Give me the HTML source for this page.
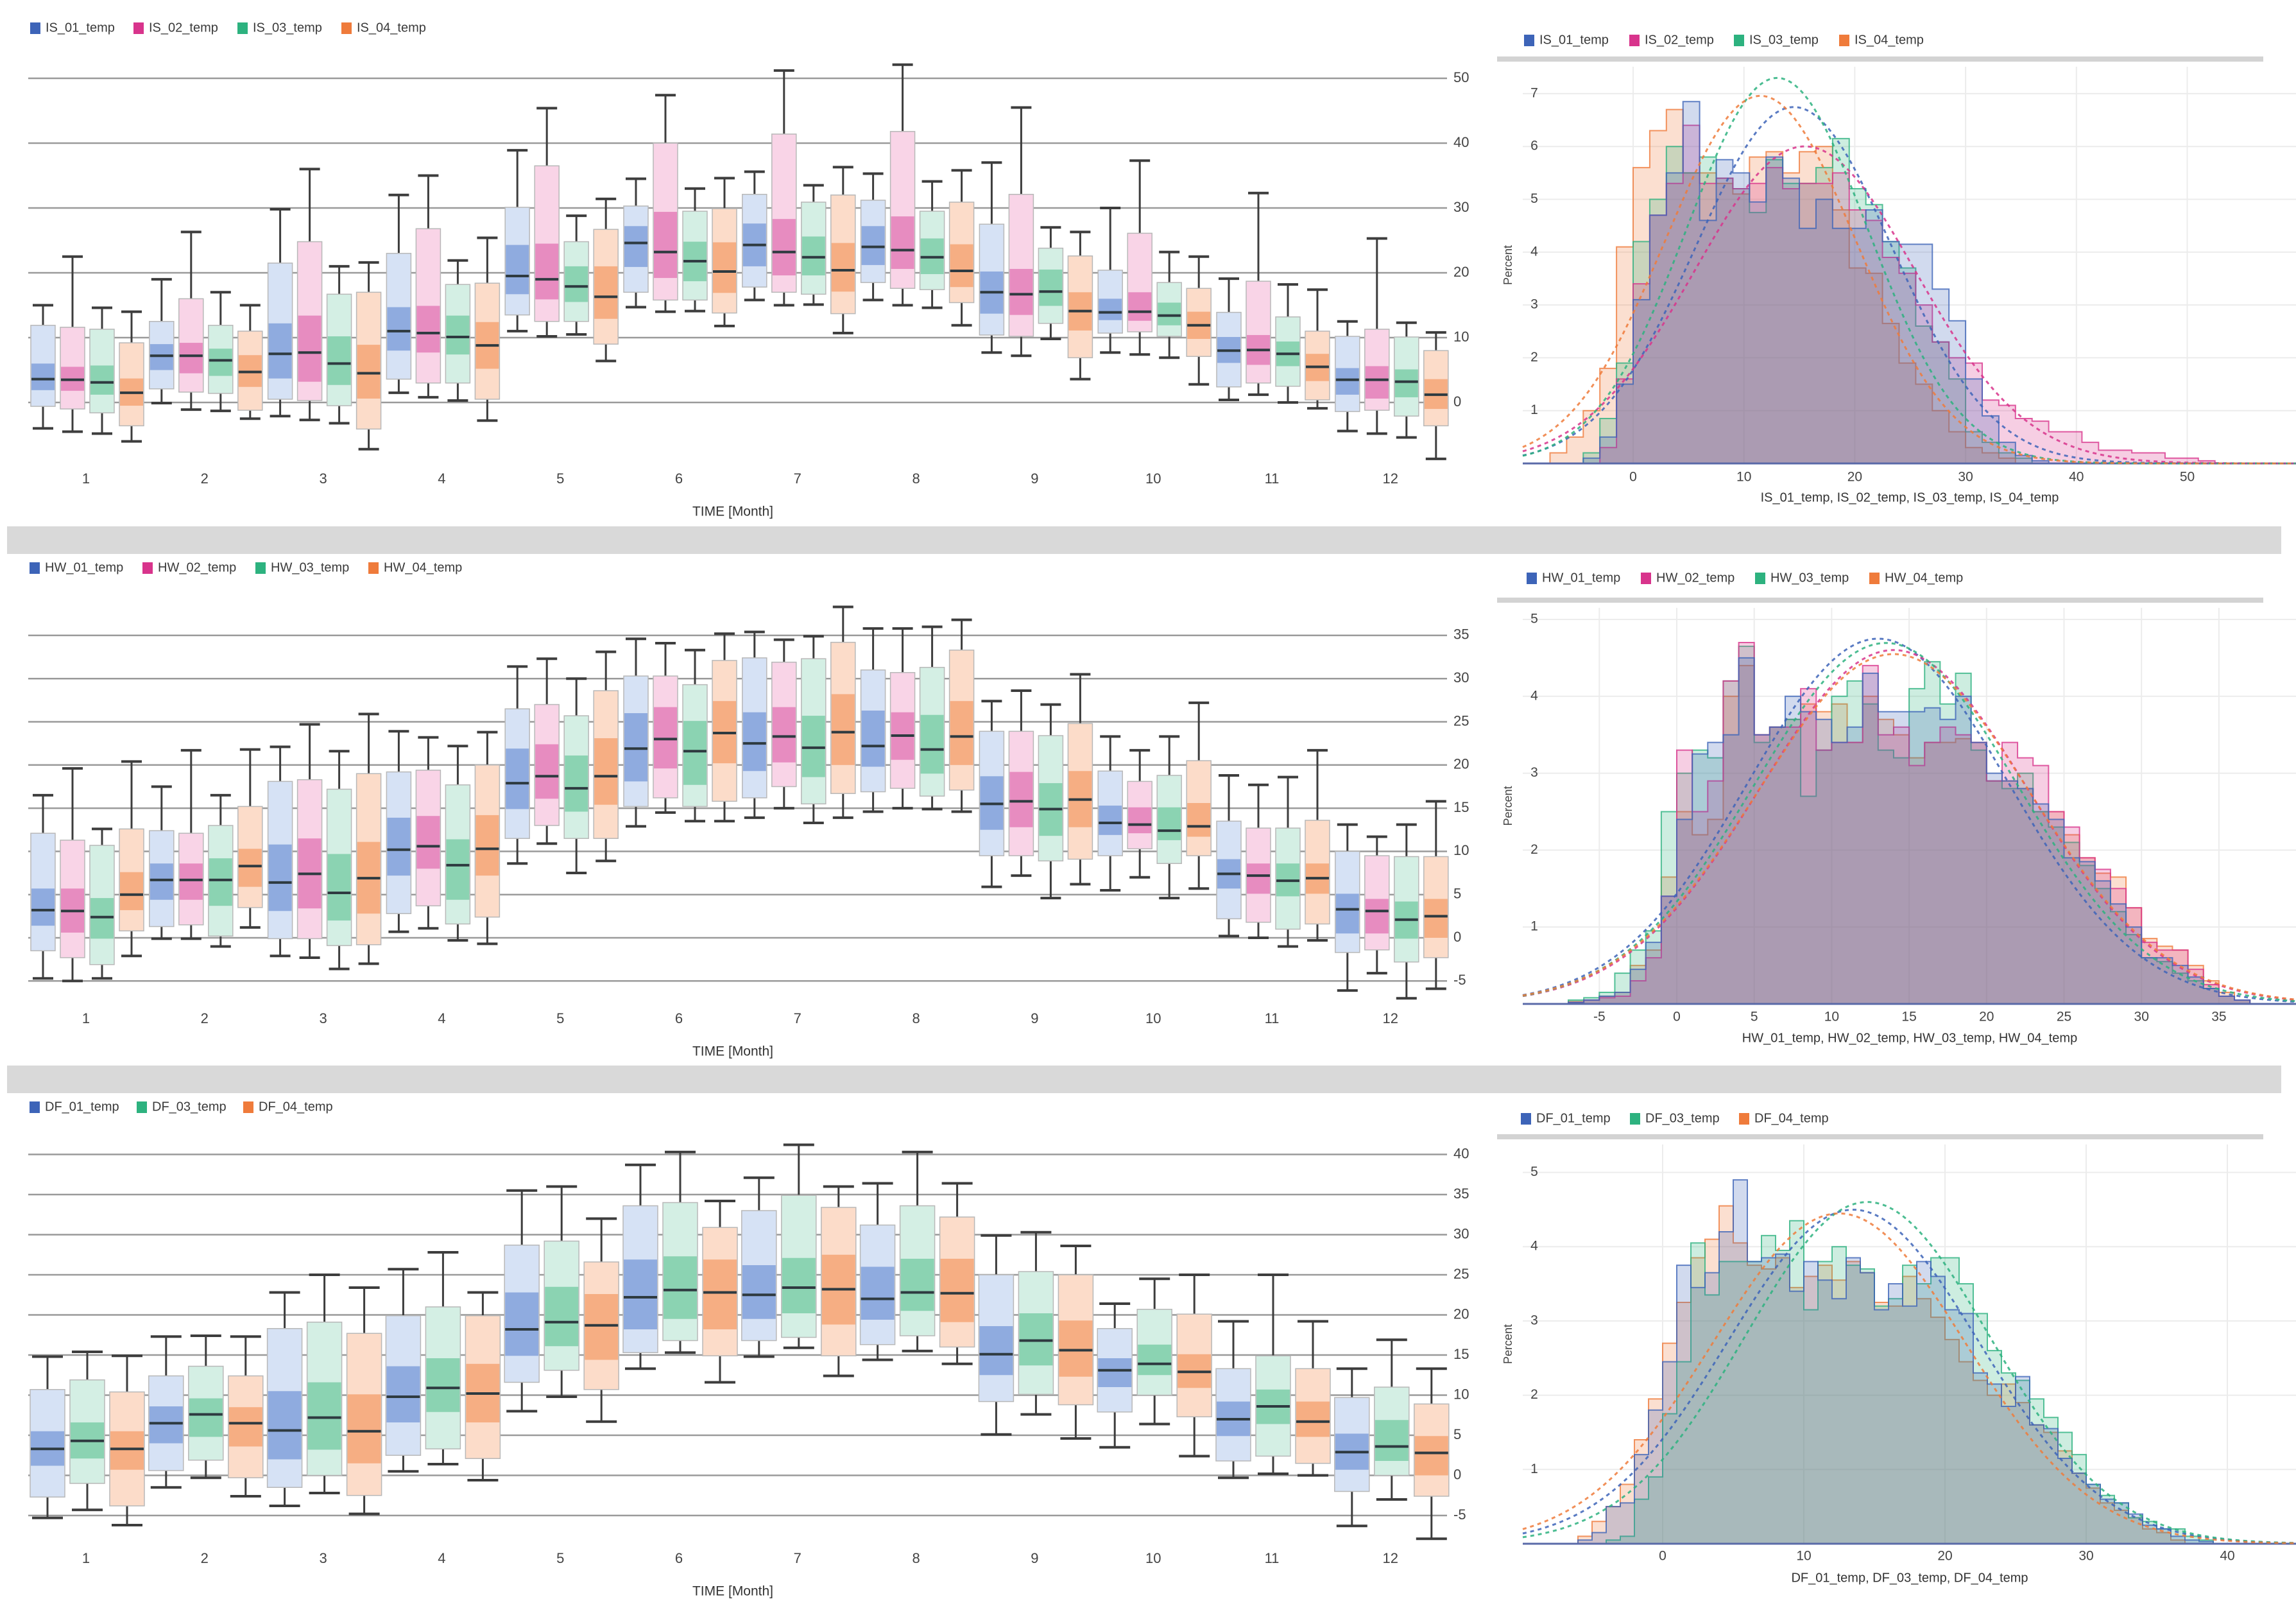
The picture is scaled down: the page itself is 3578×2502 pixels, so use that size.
<!DOCTYPE html>
<html><head><meta charset="utf-8"><style>
html,body{margin:0;padding:0;background:#fff;}
svg{display:block;font-family:"Liberation Sans",sans-serif;}
</style></head><body>
<svg id="root" xmlns="http://www.w3.org/2000/svg" width="3578" height="2502" viewBox="0 0 3578 2502">
<rect x="0" y="0" width="3578" height="2502" fill="#fff"/>
<rect x="11" y="820" width="3544" height="43" fill="#d9d9d9"/>
<rect x="11" y="1660" width="3544" height="43" fill="#d9d9d9"/>
</svg>
<script>
// ---------- DATA: box plots, each entry [whiskerLow, boxLow, bandLow, median, bandHigh, boxHigh, whiskerHigh] per month ----------
const months = [1,2,3,4,5,6,7,8,9,10,11,12];
const IS_01 = [[-4.0,-0.6,1.9,3.6,6.0,11.9,15.0],[-0.1,2.1,5.0,7.2,9.0,12.5,19],[-2.1,0.5,3.7,7.5,12.2,21.5,29.8],[1.5,3.6,8.0,11,14.7,23,32],[11.0,13.5,16.7,19.5,24.3,30.1,38.9],[14.7,17,20.9,24.6,27.2,30.3,34.5],[15.8,17.8,21.0,24.3,27.6,32.1,35.6],[15.8,18.5,21.2,24.0,27.2,31.2,35.3],[7.7,10.4,13.7,17.0,20.2,27.5,37.0],[7.7,10.7,12.7,13.9,16.0,20.4,30.0],[0.4,2.4,6.1,8.0,10.1,13.9,19.1],[-4.4,-1.4,1.2,3.5,5.3,10.2,12.5]];
const IS_02 = [[-4.5,-1.0,1.8,3.5,5.5,11.6,22.5],[-1.1,1.6,4.5,7.2,9.2,16.0,26.3],[-2.7,0.3,3.2,7.7,13.4,24.8,36],[0.8,3.0,7.7,10.7,14.9,26.8,35],[10.2,12.5,15.9,19.0,24.5,36.5,45.4],[14.0,15.8,19.2,23.2,29.4,40,47.4],[15.0,17.0,19.6,23.2,28.3,41.4,51.2],[15.0,17.6,20.6,23.5,28.7,41.8,52.1],[7.2,10.2,13.5,16.7,20.6,32.1,45.5],[7.4,10.9,12.6,14.0,17.0,26.1,37.3],[1.2,3.0,5.8,8.1,10.4,18.7,32.3],[-4.8,-1.2,0.6,3.5,5.6,11.3,25.3]];
const IS_03 = [[-4.8,-1.6,1.2,3.1,5.7,11.3,14.6],[-1.3,1.4,4.1,6.5,8.3,11.9,17],[-3.2,-0.5,2.7,6.0,10.2,16.7,21],[0.3,3.0,7.4,10.1,13.4,18.2,21.9],[10.5,12.5,15.5,17.9,21.0,24.8,28.8],[14.1,15.8,18.7,21.8,24.8,29.5,33],[15.1,16.7,19.6,22.4,25.6,30.9,33.5],[14.6,17.4,19.8,22.4,25.3,29.5,34.1],[9.8,12.2,14.9,17.1,20.5,23.8,27.0],[6.9,10.2,11.9,13.4,15.4,18.5,23.2],[0,2.5,5.6,7.5,9.4,13.2,18.2],[-5.4,-2.1,0.8,3.2,5.1,10.1,12.3]];
const IS_04 = [[-6.0,-3.6,-0.5,1.5,3.7,9.2,14.0],[-2.5,-1.2,2.4,4.7,7.3,11,15],[-7.2,-4.1,0.6,4.5,8.9,17,21.6],[-2.8,0.5,5.2,8.8,12.4,18.4,25.4],[6.4,9.0,12.9,16.3,21.0,26.7,31.4],[11.8,13.8,16.9,20.2,24.7,29.9,34.6],[10.7,13.7,17.1,20.4,24.6,32.0,36.3],[11.9,15.4,17.8,20.3,24.4,30.9,35.8],[3.6,6.9,11.1,14.1,17.0,22.6,26.3],[2.8,7.1,9.8,11.9,14.0,17.6,22.5],[-0.9,0.4,3.3,5.5,7.5,11.0,17.4],[-8.7,-3.6,-1.0,1.2,3.6,8.0,10.8]];
const HW_01 = [[-4.7,-1.5,1.4,3.2,5.7,12.1,16.5],[-0.1,1.3,4.4,6.7,8.6,12.4,17.5],[-2.1,-0.1,3.1,6.4,10.8,18.1,22.1],[0.7,2.8,7.2,10.2,13.9,19.2,23.9],[8.6,11.5,14.9,17.9,21.9,26.5,31.4],[12.9,15.2,18.1,21.9,26.0,30.3,34.6],[13.9,16.2,19.3,22.5,26.1,32.4,35.4],[14.6,16.9,19.8,22.2,26.3,31.0,35.8],[5.9,9.5,12.5,15.5,18.7,23.9,27.4],[5.5,9.5,11.9,13.3,15.3,19.3,23.3],[0.2,2.2,5.7,7.4,9.1,13.5,18.8],[-6.1,-1.7,0.5,3.3,5.1,10.0,13.1]];
const HW_02 = [[-5.0,-2.3,0.6,3.1,5.7,11.3,19.6],[-0.1,1.5,4.4,6.7,8.6,12.1,21.7],[-2.3,-0.1,3.4,7.4,11.5,18.3,24.7],[1.1,3.7,8.0,10.6,14.1,19.4,23.2],[10.9,13.0,16.1,18.7,22.4,27.0,32.3],[14.5,16.2,19.6,23.0,26.7,30.3,34.1],[15.0,17.5,20.3,23.3,26.7,31.9,34.5],[15.0,17.3,20.6,23.4,26.1,30.7,35.8],[7.2,9.5,12.8,15.8,19.2,23.9,28.6],[7.0,10.3,12.1,13.1,15.1,18.1,21.7],[0,1.8,5.1,7.2,8.6,12.7,17.7],[-4.1,-1.4,0.5,3.1,4.5,9.5,11.7]];
const HW_03 = [[-4.7,-3.1,-0.1,2.4,4.6,10.7,12.6],[-1.0,0.2,3.7,6.7,9.2,13.0,16.5],[-3.6,-0.9,2.0,5.2,9.7,17.2,21.6],[-0.3,1.6,4.4,8.4,11.4,17.7,22.2],[7.5,11.5,14.6,17.3,21.1,25.7,30.0],[13.5,15.2,17.7,21.6,25.1,29.3,33.3],[13.3,15.5,18.6,22.0,25.7,32.3,34.9],[14.9,16.4,19.0,21.8,25.8,31.3,36.0],[4.6,8.9,11.8,14.9,17.9,23.4,27.0],[4.6,8.6,11.3,12.4,15.1,18.8,23.3],[-1.0,1.0,4.8,6.6,8.6,12.7,18.6],[-7.0,-2.8,-0.1,2.1,4.2,9.4,13.1]];
const HW_04 = [[-2.1,0.8,3.2,5.0,7.6,12.6,20.4],[1.2,3.5,5.9,8.3,10.3,15.2,21.8],[-3.0,-0.8,2.8,6.9,11.1,19.0,25.9],[-0.7,2.4,7.2,10.3,14.2,20.0,23.8],[8.9,11.5,15.4,18.7,23.1,28.6,33.1],[13.5,15.8,20.2,23.7,27.4,32.1,35.2],[13.9,16.7,20.0,23.8,28.2,34.2,38.3],[14.6,17.1,20.0,23.3,27.4,33.3,36.8],[6.2,9.1,12.8,16.0,19.3,24.8,30.5],[5.7,9.5,11.7,12.9,15.6,20.5,27.2],[-0.3,1.6,5.1,6.9,8.6,13.6,21.7],[-5.9,-2.3,0,2.5,4.5,9.4,15.8]];
const DF_01 = [[-5.3,-2.7,1.2,3.3,5.5,10.7,14.8],[-1.5,0.6,4.0,6.5,8.6,12.4,17.3],[-3.8,-1.5,2.0,5.6,10.5,18.3,22.8],[0.5,2.5,6.6,9.8,13.6,19.9,25.7],[8.0,11.6,14.9,18.2,22.8,28.7,35.5],[13.3,15.3,18.2,22.2,26.9,33.6,38.7],[14.8,16.8,19.5,22.5,26.2,33.0,37.1],[14.4,16.3,19.4,22.0,26.0,31.2,36.4],[5.1,9.2,12.5,15.1,18.6,25.0,29.9],[3.5,7.9,11.0,13.1,14.6,18.3,21.4],[-0.3,1.8,4.9,7.0,9.2,13.3,19.2],[-6.3,-2.0,0.7,2.9,5.2,9.7,13.3]];
const DF_03 = [[-4.3,-1.0,2.1,4.3,6.6,11.9,15.4],[-0.3,1.9,4.8,7.6,9.6,13.6,17.4],[-2.2,0,3.2,7.2,11.6,19.1,25.0],[1.4,3.3,7.9,10.9,14.6,21.0,27.8],[9.8,13.1,16.1,19.1,23.5,29.2,36.0],[15.3,16.8,19.5,23.1,27.3,34.0,40.3],[15.9,17.2,20.2,23.4,27.1,34.9,41.2],[15.5,17.4,20.5,22.8,27.0,33.6,40.3],[7.6,10.1,13.7,16.8,20.2,25.4,30.3],[6.4,10.0,12.5,13.9,16.3,20.7,24.5],[0.2,2.4,6.4,8.6,10.7,14.9,25.0],[-3.0,0,1.8,3.6,6.9,11.0,16.9]];
const DF_04 = [[-6.2,-3.8,0.7,3.3,5.5,10.4,14.9],[-2.6,-0.3,3.6,6.5,8.5,12.4,17.3],[-4.8,-2.5,1.5,5.5,10.1,17.7,23.4],[-0.6,2.1,6.6,10.2,13.9,19.9,22.8],[6.7,10.7,14.4,18.7,22.6,26.6,32.0],[11.6,14.9,18.2,22.8,26.9,30.9,34.2],[12.4,14.9,18.8,23.2,27.5,33.4,36.0],[13.9,16.0,19.1,22.7,27.0,32.2,36.4],[4.6,8.8,12.3,15.6,19.3,25.0,28.6],[2.4,7.3,10.9,12.9,15.1,20.1,25.0],[0,1.5,4.8,6.7,9.2,13.3,19.2],[-7.9,-2.6,0,2.8,4.9,8.9,13.3]];
const IS_ticks = [0,10,20,30,40,50];
const HW_ticks = [-5,0,5,10,15,20,25,30,35];
const DF_ticks = [-5,0,5,10,15,20,25,30,35,40];

// ---------- DATA: histograms (percent per bin) ----------
const IS_hist_starts = [-4.5,-3,-4.5,-7.5];
const IS_hist_01 = [0.1,0.5,1.5,3.1,4.7,5.5,6.85,4.6,5.75,5.5,4.95,5.8,5.4,4.45,5.0,4.45,4.45,4.8,4.2,4.15,4.15,3.3,2.7,1.6,0.9,0.4,0.15,0.05];
const IS_hist_02 = [0.3,1.6,3.4,4.7,5.3,6.4,5.3,5.4,5.2,5.3,5.6,5.2,5.3,5.3,5.5,4.8,4.6,3.9,3.6,3.0,2.3,2.0,1.9,1.2,1.1,0.85,0.8,0.6,0.6,0.4,0.25,0.25,0.2,0.2,0.1,0.1,0.05];
const IS_hist_03 = [0.2,0.85,1.9,4.2,5.0,6.0,5.5,5.8,5.4,5.2,4.75,5.75,5.3,5.3,5.6,6.15,5.2,4.9,4.2,3.7,2.6,2.3,1.6,0.6,0.4,0.2,0.1];
const IS_hist_04 = [0.2,0.5,1.0,1.8,4.1,5.6,6.3,6.7,5.5,5.5,5.3,5.1,5.8,5.9,5.5,5.9,6.0,4.8,3.7,3.6,2.65,1.9,1.5,1.0,0.6,0.3,0.2,0.1];
const IS_fit_mean = [14.5,15.5,13,11.5];
const IS_fit_sd = [8.87,9.97,8.2,8.6];
const IS_x_ticks = [0,10,20,30,40,50];
const IS_y_ticks = [1,2,3,4,5,6,7];

const HW_hist_starts = [-7,-7,-7,-7];
const HW_hist_01 = [0.02,0.05,0.1,0.15,0.45,0.8,1.4,2.4,3.25,3.4,3.5,4.5,3.5,3.6,4.0,3.8,3.7,3.4,3.6,4.3,3.8,3.8,3.8,3.85,3.7,4.0,3.4,3.0,2.9,2.8,2.6,2.4,1.9,1.85,1.6,1.3,1.0,0.6,0.6,0.5,0.35,0.2,0.1,0.05];
const HW_hist_02 = [0.02,0.05,0.08,0.1,0.3,0.6,1.4,3.3,2.5,2.9,4.2,4.7,3.5,3.6,3.6,4.1,3.3,3.4,3.4,4.4,3.5,3.6,3.1,3.4,3.6,3.5,3.4,2.9,3.4,3.2,3.1,2.5,2.3,1.9,1.75,1.5,1.25,0.8,0.7,0.7,0.45,0.25,0.1,0.05];
const HW_hist_03 = [0.05,0.08,0.15,0.4,0.7,0.95,2.5,3.0,3.3,3.2,4.2,4.65,3.4,3.6,3.7,2.7,3.3,4.0,4.2,3.9,3.3,3.2,4.1,4.45,3.9,4.3,3.3,2.9,2.8,3.0,2.5,2.3,2.1,1.8,1.5,1.2,0.9,0.6,0.55,0.4,0.3,0.2,0.1,0.05];
const HW_hist_04 = [0.03,0.05,0.1,0.15,0.5,0.7,1.65,2.5,2.2,2.4,4.0,4.4,3.5,3.6,3.7,3.9,3.8,3.9,3.4,4.0,3.7,3.5,3.2,3.4,3.4,3.45,3.4,2.9,2.9,2.8,2.5,2.5,2.2,1.9,1.7,1.65,1.25,0.85,0.75,0.7,0.5,0.3,0.15,0.05];
const HW_fit_mean = [13,14,13.5,14];
const HW_fit_sd = [8.4,8.67,8.5,8.77];
const HW_x_ticks = [-5,0,5,10,15,20,25,30,35];
const HW_y_ticks = [1,2,3,4,5];

const DF_hist_starts = [-6,-4,-6];
const DF_hist_01 = [0.05,0.15,0.5,0.55,1.2,1.8,2.45,3.75,3.45,3.65,4.2,4.9,3.8,3.85,3.9,3.4,3.8,3.55,3.3,3.85,3.65,3.15,3.5,3.2,3.8,3.6,3.15,3.1,2.3,2.15,1.85,2.25,1.6,1.55,1.15,0.95,0.8,0.6,0.55,0.4,0.25,0.2,0.1,0.05,0.03];
const DF_hist_03 = [0.05,0.1,0.6,0.9,1.75,2.45,4.05,3.35,3.8,3.8,3.8,4.15,3.95,4.35,3.15,3.8,4.0,3.75,3.7,3.2,3.3,3.75,3.5,3.85,3.85,3.5,3.1,2.6,2.3,2.2,1.95,1.7,1.5,1.2,0.8,0.65,0.55,0.35,0.3,0.2,0.2,0.1,0.05];
const DF_hist_04 = [0.1,0.3,0.5,0.8,1.4,1.95,2.7,3.25,3.85,4.1,4.55,4.05,3.75,3.7,3.85,3.45,3.6,3.75,3.55,3.8,3.65,3.25,3.2,3.6,3.3,3.05,2.75,2.45,2.2,2.0,2.15,1.9,1.6,1.5,1.25,0.95,0.75,0.55,0.45,0.35,0.2,0.15,0.05];
const DF_fit_mean = [13.5,14.5,12.5];
const DF_fit_sd = [8.87,8.67,8.97];
const DF_x_ticks = [0,10,20,30,40];
const DF_y_ticks = [1,2,3,4,5];

// ---------- rendering ----------
const NS = "http://www.w3.org/2000/svg";
const root = document.getElementById('root');
const COL = {
  blue:{main:'#3d64b8',light:'#d6e2f5',band:'#8fabdf'},
  pink:{main:'#d8348c',light:'#f9d4e7',band:'#e78cc0'},
  green:{main:'#2db27f',light:'#d4efe4',band:'#8bd3b2'},
  orange:{main:'#ef7b3b',light:'#fcdcc9',band:'#f6ae83'}
};
function mk(tag, attrs, parent){
  const el = document.createElementNS(NS, tag);
  for (const k in attrs) el.setAttribute(k, attrs[k]);
  (parent||root).appendChild(el);
  return el;
}
function txt(s, x, y, size, anchor, fill, parent){
  const t = mk('text',{x:x,y:y,'font-size':size,'text-anchor':anchor||'start',fill:fill||'#444','dominant-baseline':'middle'},parent);
  t.textContent = s;
  return t;
}
function legend(items, y, xs, size, name){
  const g = mk('g',{});
  
  
  items.forEach((it,i)=>{
    const sq = mk('rect',{x:xs[i],y:y-9,width:16,height:18,fill:COL[it.c].main},g);
    
    
    const t = txt(it.label, xs[i]+24, y, size, 'start', '#3a3a3a', g);
    
    
  });
}

function boxPanel(cfg){
  const g = mk('g',{});
  
  
  const yS = v => cfg.y0 - v*cfg.k;
  const xM = m => 136 + 184.8*(m-1);
  cfg.ticks.forEach(t=>{
    const l = mk('line',{x1:44,x2:2255,y1:yS(t),y2:yS(t),stroke:'#9a9a9a','stroke-width':2.5},g);
    
    
    const tl = txt(String(t), 2265, yS(t), 22, 'start', '#444', g);
    
    
  });
  months.forEach(m=>{
    const tl = txt(String(m), xM(m)-2, cfg.monthY, 22, 'middle', '#444', g);
    
    
  });
  const at = txt('TIME [Month]', 1142, cfg.titleY, 21, 'middle', '#333', g);
  
  
  cfg.series.forEach((s,si)=>{
    const c = COL[s.c];
    s.data.forEach((d,mi)=>{
      const cx = xM(months[mi]) + cfg.offsets[si];
      const w = cfg.bw;
      const bg = mk('g',{},g);
      
      
      mk('line',{x1:cx,x2:cx,y1:yS(d[5]),y2:yS(d[6]),stroke:'#3d3d3d','stroke-width':3},bg);
      mk('line',{x1:cx,x2:cx,y1:yS(d[0]),y2:yS(d[1]),stroke:'#3d3d3d','stroke-width':3},bg);
      mk('line',{x1:cx-w/2+3,x2:cx+w/2-3,y1:yS(d[6]),y2:yS(d[6]),stroke:'#3d3d3d','stroke-width':4},bg);
      mk('line',{x1:cx-w/2+3,x2:cx+w/2-3,y1:yS(d[0]),y2:yS(d[0]),stroke:'#3d3d3d','stroke-width':4},bg);
      mk('rect',{x:cx-w/2,y:yS(d[5]),width:w,height:yS(d[1])-yS(d[5]),fill:c.light,stroke:'#b8b8b8','stroke-width':1.5},bg);
      mk('rect',{x:cx-w/2+1,y:yS(d[4]),width:w-2,height:yS(d[2])-yS(d[4]),fill:c.band},bg);
      mk('line',{x1:cx-w/2+1,x2:cx+w/2-1,y1:yS(d[3]),y2:yS(d[3]),stroke:'#2e3a40','stroke-width':4},bg);
    });
  });
}

boxPanel({name:'is-boxplot-panel',y0:627,k:10.1,ticks:IS_ticks,monthY:747,titleY:798,bw:38,offsets:[-69,-23,23,69],
  series:[{label:'IS_01_temp',c:'blue',data:IS_01},{label:'IS_02_temp',c:'pink',data:IS_02},{label:'IS_03_temp',c:'green',data:IS_03},{label:'IS_04_temp',c:'orange',data:IS_04}]});
boxPanel({name:'hw-boxplot-panel',y0:1461,k:13.46,ticks:HW_ticks,monthY:1588,titleY:1639,bw:38,offsets:[-69,-23,23,69],
  series:[{label:'HW_01_temp',c:'blue',data:HW_01},{label:'HW_02_temp',c:'pink',data:HW_02},{label:'HW_03_temp',c:'green',data:HW_03},{label:'HW_04_temp',c:'orange',data:HW_04}]});
boxPanel({name:'df-boxplot-panel',y0:2298.5,k:12.5,ticks:DF_ticks,monthY:2429,titleY:2480,bw:54,offsets:[-62,0,62],
  series:[{label:'DF_01_temp',c:'blue',data:DF_01},{label:'DF_03_temp',c:'green',data:DF_03},{label:'DF_04_temp',c:'orange',data:DF_04}]});

legend([{label:'IS_01_temp',c:'blue'},{label:'IS_02_temp',c:'pink'},{label:'IS_03_temp',c:'green'},{label:'IS_04_temp',c:'orange'}],44,[47,208,370,532],20,'is-boxplot-legend');
legend([{label:'HW_01_temp',c:'blue'},{label:'HW_02_temp',c:'pink'},{label:'HW_03_temp',c:'green'},{label:'HW_04_temp',c:'orange'}],885,[46,222,398,574],20,'hw-boxplot-legend');
legend([{label:'DF_01_temp',c:'blue'},{label:'DF_03_temp',c:'green'},{label:'DF_04_temp',c:'orange'}],1725,[46,213,379],20,'df-boxplot-legend');

function histPanel(cfg){
  const g = mk('g',{});
  
  
  const L = 2373, R = 3578;
  const xS = v => cfg.x0 + v*cfg.kx;
  const yS = v => cfg.y0 - v*cfg.ky;
  const top = cfg.scrollY + 12;
  const sb = mk('rect',{x:2333,y:cfg.scrollY-4,width:1194,height:8,fill:'#d3d3d3'},g);
  
  
  cfg.yTicks.forEach(t=>{
    mk('line',{x1:L,x2:R,y1:yS(t),y2:yS(t),stroke:'#ececec','stroke-width':2},g);
    const tl = txt(String(t), 2391, yS(t), 21, 'middle', '#444', g);
    
    
  });
  cfg.xTicks.forEach(t=>{
    mk('line',{x1:xS(t),x2:xS(t),y1:top,y2:cfg.y0,stroke:'#ececec','stroke-width':2},g);
    const tl = txt(String(t), xS(t), cfg.tickY, 21, 'middle', '#444', g);
    
    
  });
  const pl = mk('text',{x:2351,y:(top+cfg.y0)/2,'font-size':18,'text-anchor':'middle',fill:'#444','dominant-baseline':'middle',transform:'rotate(-90 2351 '+((top+cfg.y0)/2)+')'},g);
  pl.textContent = 'Percent';
  
  
  const xt = txt(cfg.title, 2976, cfg.titleY, 20, 'middle', '#333', g);
  
  
  const order = cfg.series.map((s,i)=>i).reverse();
  order.forEach(si=>{
    const s = cfg.series[si];
    const c = COL[s.c];
    const st = cfg.starts[si];
    let d = 'M'+xS(st)+','+cfg.y0;
    s.vals.forEach((v,i)=>{
      const a = xS(st+i*cfg.bin), b = xS(st+(i+1)*cfg.bin);
      d += ' L'+a+','+yS(v)+' L'+b+','+yS(v);
    });
    d += ' L'+xS(st+s.vals.length*cfg.bin)+','+cfg.y0+' Z';
    const p = mk('path',{d:d,fill:c.main,'fill-opacity':0.24,stroke:c.main,'stroke-width':2,'stroke-opacity':0.8},g);
    
    
  });
  mk('line',{x1:L,x2:R,y1:cfg.y0,y2:cfg.y0,stroke:'#5a6aa8','stroke-width':3},g);
  cfg.series.forEach((s,si)=>{
    const c = COL[s.c];
    const mu = cfg.means[si], sd = cfg.sds[si];
    let d = '';
    for (let px = L; px <= R; px += 4){
      const v = (px - cfg.x0)/cfg.kx;
      const pct = 100*cfg.bin/(sd*Math.sqrt(2*Math.PI))*Math.exp(-0.5*((v-mu)/sd)**2);
      d += (d?' L':'M')+px+','+yS(pct);
    }
    const p = mk('path',{d:d,fill:'none',stroke:c.main,'stroke-width':3,'stroke-dasharray':'6,6','stroke-opacity':0.85},g);
    
    
  });
}

histPanel({name:'is-histogram-panel',x0:2545,kx:17.27,y0:722,ky:82.3,bin:1.5,scrollY:92,tickY:744,titleY:776,
  title:'IS_01_temp, IS_02_temp, IS_03_temp, IS_04_temp',xTicks:IS_x_ticks,yTicks:IS_y_ticks,starts:IS_hist_starts,means:IS_fit_mean,sds:IS_fit_sd,
  series:[{label:'IS_01_temp',c:'blue',vals:IS_hist_01},{label:'IS_02_temp',c:'pink',vals:IS_hist_02},{label:'IS_03_temp',c:'green',vals:IS_hist_03},{label:'IS_04_temp',c:'orange',vals:IS_hist_04}]});
histPanel({name:'hw-histogram-panel',x0:2613,kx:24.14,y0:1564,ky:119.8,bin:1,scrollY:935,tickY:1585,titleY:1618,
  title:'HW_01_temp, HW_02_temp, HW_03_temp, HW_04_temp',xTicks:HW_x_ticks,yTicks:HW_y_ticks,starts:HW_hist_starts,means:HW_fit_mean,sds:HW_fit_sd,
  series:[{label:'HW_01_temp',c:'blue',vals:HW_hist_01},{label:'HW_02_temp',c:'pink',vals:HW_hist_02},{label:'HW_03_temp',c:'green',vals:HW_hist_03},{label:'HW_04_temp',c:'orange',vals:HW_hist_04}]});
histPanel({name:'df-histogram-panel',x0:2591,kx:22.0,y0:2405,ky:115.7,bin:1,scrollY:1771,tickY:2425,titleY:2459,
  title:'DF_01_temp, DF_03_temp, DF_04_temp',xTicks:DF_x_ticks,yTicks:DF_y_ticks,starts:DF_hist_starts,means:DF_fit_mean,sds:DF_fit_sd,
  series:[{label:'DF_01_temp',c:'blue',vals:DF_hist_01},{label:'DF_03_temp',c:'green',vals:DF_hist_03},{label:'DF_04_temp',c:'orange',vals:DF_hist_04}]});

legend([{label:'IS_01_temp',c:'blue'},{label:'IS_02_temp',c:'pink'},{label:'IS_03_temp',c:'green'},{label:'IS_04_temp',c:'orange'}],63,[2375,2539,2702,2866],20,'is-histogram-legend');
legend([{label:'HW_01_temp',c:'blue'},{label:'HW_02_temp',c:'pink'},{label:'HW_03_temp',c:'green'},{label:'HW_04_temp',c:'orange'}],901,[2379,2557,2735,2913],20,'hw-histogram-legend');
legend([{label:'DF_01_temp',c:'blue'},{label:'DF_03_temp',c:'green'},{label:'DF_04_temp',c:'orange'}],1743,[2370,2540,2710],20,'df-histogram-legend');
</script>
</body></html>
